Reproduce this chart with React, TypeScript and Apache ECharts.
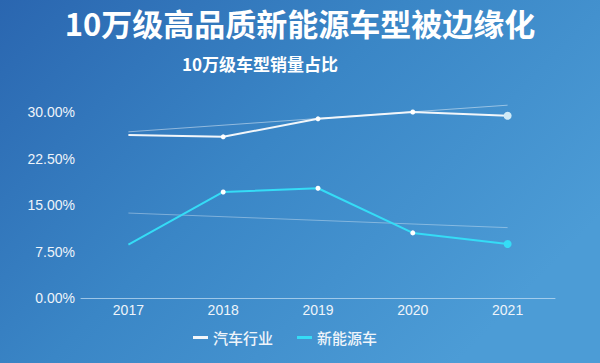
import React, { useEffect, useRef } from "react";
import * as echarts from "echarts";

const years = ["2017", "2018", "2019", "2020", "2021"];
const autoIndustry = [26.3, 26.0, 28.9, 30.0, 29.4];
const newEnergy = [8.6, 17.1, 17.7, 10.5, 8.7];
const autoTrend = [26.8, null, null, null, 31.1];
const newEnergyTrend = [13.7, null, null, null, 11.35];
const seriesNames = ["汽车行业", "新能源车"];
const titleText = "10万级高品质新能源车型被边缘化";
const subtitleText = "10万级车型销量占比";

function pointData(values: number[], lastColor: string) {
  return values.map((v, i) => {
    if (i === 0) return { value: v, symbolSize: 0 };
    if (i === values.length - 1)
      return { value: v, symbolSize: 8, itemStyle: { color: lastColor } };
    return { value: v, symbolSize: 5, itemStyle: { color: "#ffffff" } };
  });
}

export default function App() {
  const ref = useRef<HTMLDivElement>(null);
  useEffect(() => {
    if (!ref.current) return;
    const chart = echarts.init(ref.current, null, { renderer: "svg" });
    chart.setOption({
      animation: false,
      backgroundColor: {
        type: "linear",
        x: 0,
        y: 0,
        x2: 1,
        y2: 0.6,
        colorStops: [
          { offset: 0, color: "#2a66b0" },
          { offset: 0.5, color: "#3a86c6" },
          { offset: 1, color: "#4c9cd6" },
        ],
      },
      title: [
        {
          text: titleText,
          left: "center",
          top: 2,
          textStyle: {
            color: "#ffffff",
            fontSize: 31,
            fontWeight: "bold",
            fontFamily: "Noto Sans CJK SC",
          },
        },
        {
          text: subtitleText,
          left: 255,
          top: 50,
          textAlign: "center",
          textStyle: {
            color: "#ffffff",
            fontSize: 17,
            fontWeight: "bold",
            fontFamily: "Noto Sans CJK SC",
          },
        },
      ],
      legend: {
        data: [
          { name: seriesNames[0], icon: "rect", itemStyle: { color: "#f2f6fa" } },
          { name: seriesNames[1], icon: "rect", itemStyle: { color: "#35dcf6" } },
        ],
        left: 188,
        top: 325,
        itemWidth: 15,
        itemHeight: 3,
        itemGap: 24,
        textStyle: {
          color: "#eef4fa",
          fontSize: 15,
          fontWeight: 500,
          fontFamily: "Noto Sans CJK SC",
        },
      },
      grid: { left: 81, right: 45, top: 112, bottom: 65, containLabel: false },
      xAxis: {
        type: "category",
        data: years,
        boundaryGap: true,
        axisLine: { lineStyle: { color: "rgba(200,225,245,0.7)", width: 1 } },
        axisTick: { show: false },
        axisLabel: {
          color: "#eef4fa",
          fontSize: 14,
          fontFamily: "Liberation Sans",
          margin: 5,
        },
      },
      yAxis: {
        type: "value",
        min: 0,
        max: 30,
        interval: 7.5,
        splitLine: { show: false },
        axisLine: { show: false },
        axisTick: { show: false },
        axisLabel: {
          color: "#eef4fa",
          fontSize: 14,
          fontFamily: "Liberation Sans",
          margin: 6,
          formatter: (v: number) => v.toFixed(2) + "%",
        },
      },
      series: [
        {
          name: seriesNames[0],
          type: "line",
          data: pointData(autoIndustry, "#cfeaf7"),
          symbol: "circle",
          clip: false,
          lineStyle: { color: "#f2f6fa", width: 2 },
          itemStyle: { color: "#f2f6fa" },
          z: 3,
        },
        {
          name: seriesNames[1],
          type: "line",
          data: pointData(newEnergy, "#35dcf6"),
          symbol: "circle",
          clip: false,
          lineStyle: { color: "#35dcf6", width: 2 },
          itemStyle: { color: "#35dcf6" },
          z: 3,
        },
        {
          name: "trend1",
          type: "line",
          data: autoTrend,
          connectNulls: true,
          clip: false,
          showSymbol: false,
          symbol: "none",
          lineStyle: { color: "rgba(255,255,255,0.45)", width: 1 },
          z: 2,
          silent: true,
        },
        {
          name: "trend2",
          type: "line",
          data: newEnergyTrend,
          connectNulls: true,
          showSymbol: false,
          symbol: "none",
          lineStyle: { color: "rgba(255,255,255,0.35)", width: 1 },
          z: 2,
          silent: true,
        },
      ],
    });
    return () => chart.dispose();
  }, []);
  return <div ref={ref} style={{ width: 600, height: 363, position: "absolute", left: 0, top: 0 }} />;
}
